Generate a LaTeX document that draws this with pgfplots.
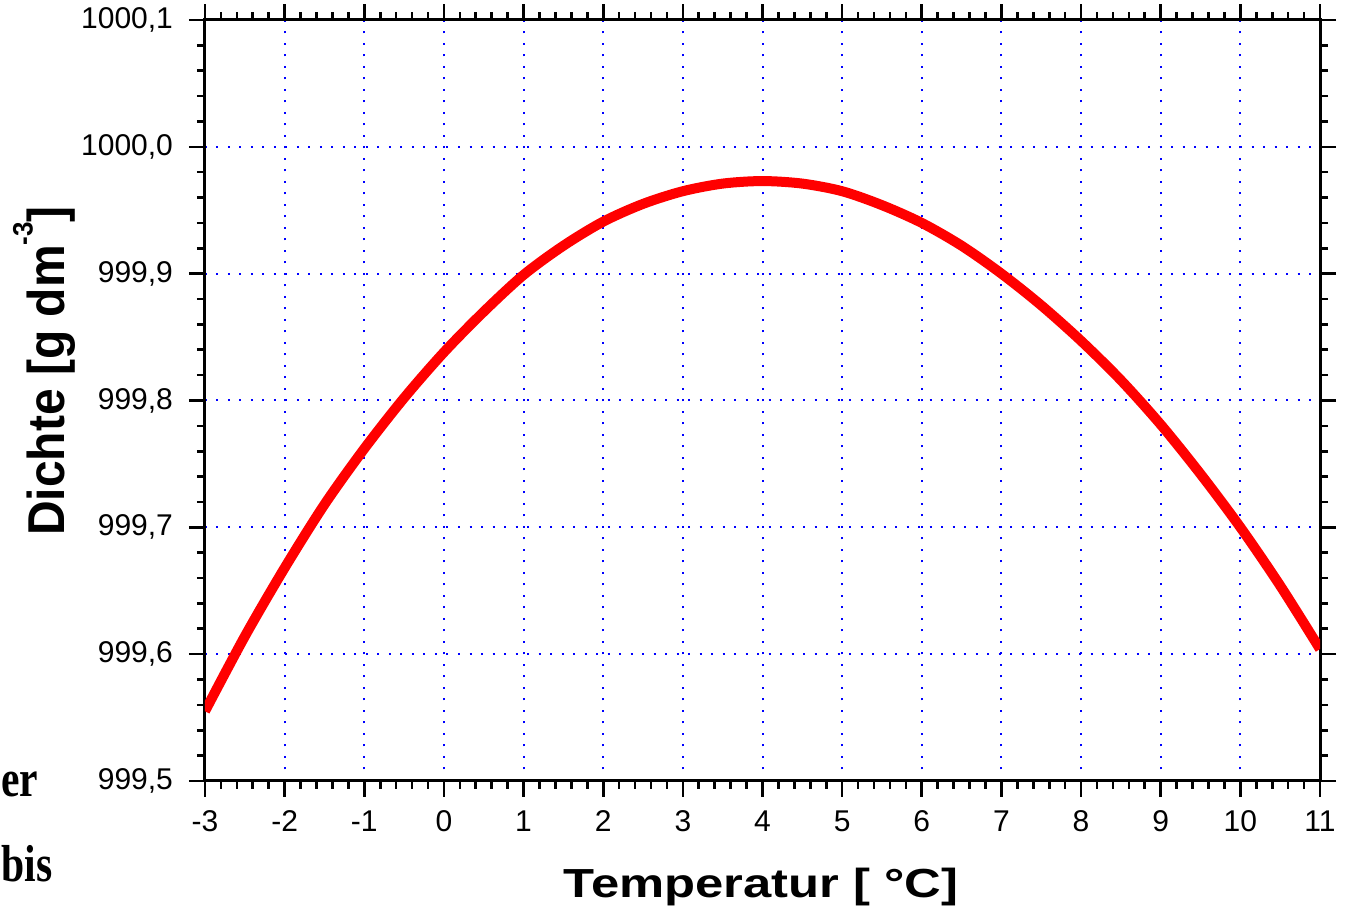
\documentclass[border=0pt]{standalone}
\usepackage{fontspec}
\setmainfont{Liberation Sans}
\newfontfamily\timesfont{Liberation Serif}
\usepackage{pgfplots}
\pgfplotsset{compat=1.18}
\begin{document}
\begin{tikzpicture}
\begin{axis}[
  scale only axis,
  width=557.5pt, height=380.5pt,
  xmin=-3, xmax=11, ymin=999.5, ymax=1000.1,
  xtick={-3,-2,...,11},
  ytick={999.5,999.6,999.7,999.8,999.9,1000.0,1000.1},
  minor x tick num=4, minor y tick num=4,
  tick align=outside,
  xtick pos=both, ytick pos=both,
  major tick length=8pt, minor tick length=4pt,
  every tick/.style={black, line width=1.3pt},
  axis line style={line width=1.5pt},
  grid=major,
  major grid style={blue, line width=1pt, dash pattern=on 1pt off 4.75pt},
  /pgf/number format/assume math mode=true,
  ticklabel style={font=\fontsize{15}{18}\selectfont},
  xticklabel style={yshift=-3.5pt},
  yticklabel style={xshift=-4.5pt},
  y tick label style={/pgf/number format/.cd, fixed, fixed zerofill, precision=1, use comma, 1000 sep={}},
  xlabel={Temperatur [ °C]},
  xlabel style={at={(rel axis cs:0.4987,-0.1537)}, anchor=base, font=\fontsize{20.3}{24}\selectfont\bfseries, xscale=1.25},
  ylabel={Dichte [g dm{\fontsize{13}{15}\selectfont\raisebox{15pt}{-3}}]},
  ylabel style={at={(rel axis cs:-0.1256,0.5388)}, anchor=base, font=\fontsize{24}{28}\selectfont\bfseries, yscale=1.08},
  clip=true,
]
\addplot[red, line width=5pt, smooth] coordinates {
(-3,999.555) (-2.5,999.614) (-2,999.668) (-1.5,999.718) (-1,999.762) (-0.5,999.802)
(0,999.838) (0.5,999.870) (1,999.899) (1.5,999.922) (2,999.941) (2.5,999.955)
(3,999.965) (3.5,999.971) (4,999.973) (4.5,999.971) (5,999.965) (5.5,999.954)
(6,999.940) (6.5,999.922) (7,999.900) (7.5,999.875) (8,999.847) (8.5,999.816)
(9,999.781) (9.5,999.742) (10,999.700) (10.5,999.654) (11,999.604)
};
\coordinate (bl) at (rel axis cs:-0.18386,-0.1682);
\coordinate (tr) at (rel axis cs:1.02422,1.02628);
\coordinate (er) at (rel axis cs:-0.18296,-0.0210);
\coordinate (bis) at (rel axis cs:-0.18296,-0.1327);
\end{axis}
\node[anchor=base west, font=\timesfont\bfseries\fontsize{26}{30}\selectfont, inner sep=0pt, xscale=0.8] at (er) {er};
\node[anchor=base west, font=\timesfont\bfseries\fontsize{26}{30}\selectfont, inner sep=0pt, xscale=0.8] at (bis) {bis};
\pgfresetboundingbox
\path[use as bounding box] (bl) rectangle (tr);
\end{tikzpicture}
\end{document}
